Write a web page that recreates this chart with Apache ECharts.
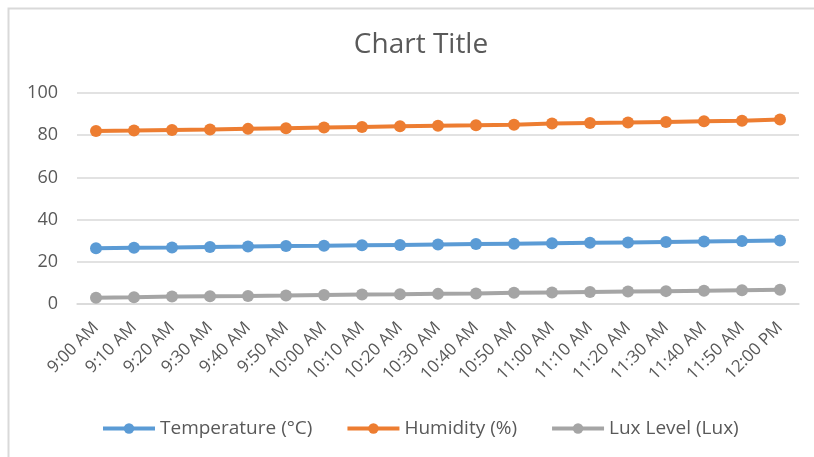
<!DOCTYPE html>
<html><head><meta charset="utf-8">
<script src="https://cdn.jsdelivr.net/npm/echarts@6/dist/echarts.min.js"></script>
<style>html,body{margin:0;padding:0;background:#fff}#c{width:814px;height:457px}</style>
</head><body><div id="c"></div>
<script>
const categories = ["9:00 AM","9:10 AM","9:20 AM","9:30 AM","9:40 AM","9:50 AM","10:00 AM","10:10 AM","10:20 AM","10:30 AM","10:40 AM","10:50 AM","11:00 AM","11:10 AM","11:20 AM","11:30 AM","11:40 AM","11:50 AM","12:00 PM"];
const temperature = [26.4,26.7,26.8,27.0,27.2,27.5,27.6,27.8,28.0,28.2,28.4,28.6,28.8,29.0,29.2,29.4,29.6,29.8,30.1];
const humidity = [82.0,82.2,82.5,82.7,83.0,83.3,83.6,83.9,84.2,84.5,84.7,85.0,85.5,85.8,86.0,86.3,86.6,86.9,87.4];
const lux = [3.0,3.2,3.5,3.7,3.8,4.0,4.3,4.5,4.6,4.8,5.0,5.3,5.5,5.7,5.9,6.1,6.3,6.5,6.7];
const yTicks = {min:0, max:100, interval:20};
const seriesNames = ["Temperature (°C)","Humidity (%)","Lux Level (Lux)"];
const colors = ["#5B9BD5","#ED7D31","#A5A5A5"];

const font = "Open Sans";
const chart = echarts.init(document.getElementById('c'), null, {renderer:'canvas'});
function mk(name, data, color){
  return {name, type:'line', data, color, symbol:'circle', symbolSize:12,
    lineStyle:{width:4, color}, itemStyle:{color}, animation:false};
}
chart.setOption({
  animation:false,
  textStyle:{fontFamily:font},
  graphic:[{type:'rect', shape:{x:8.5,y:8.5,width:820,height:460}, style:{fill:'none', stroke:'#d9d9d9', lineWidth:2}, silent:true}],
  title:{text:'Chart Title', left:416, textAlign:'center', top:26,
    textStyle:{fontFamily:font, fontSize:28, fontWeight:'normal', color:'#595959'}},
  grid:{left:77, right:15, top:93, bottom:153, containLabel:false},
  legend:{top:414, left:96, itemWidth:52, itemHeight:13, itemGap:33,
    lineStyle:{width:4}, itemStyle:{borderWidth:0},
    textStyle:{fontFamily:font, fontSize:19, color:'#595959'},
    data:seriesNames},
  xAxis:{type:'category', data:categories, boundaryGap:true,
    axisLine:{lineStyle:{color:'#d9d9d9', width:1.5}}, axisTick:{show:false},
    axisLabel:{rotate:45, interval:0, margin:21, color:'#595959', fontSize:17, fontFamily:font}},
  yAxis:{type:'value', min:yTicks.min, max:yTicks.max, interval:yTicks.interval,
    axisLine:{show:false}, axisTick:{show:false},
    splitLine:{lineStyle:{color:'#d9d9d9', width:1.5}},
    axisLabel:{margin:19, color:'#595959', fontSize:18, fontFamily:font}},
  series:[mk(seriesNames[0], temperature, colors[0]), mk(seriesNames[1], humidity, colors[1]), mk(seriesNames[2], lux, colors[2])]
});
</script></body></html>
